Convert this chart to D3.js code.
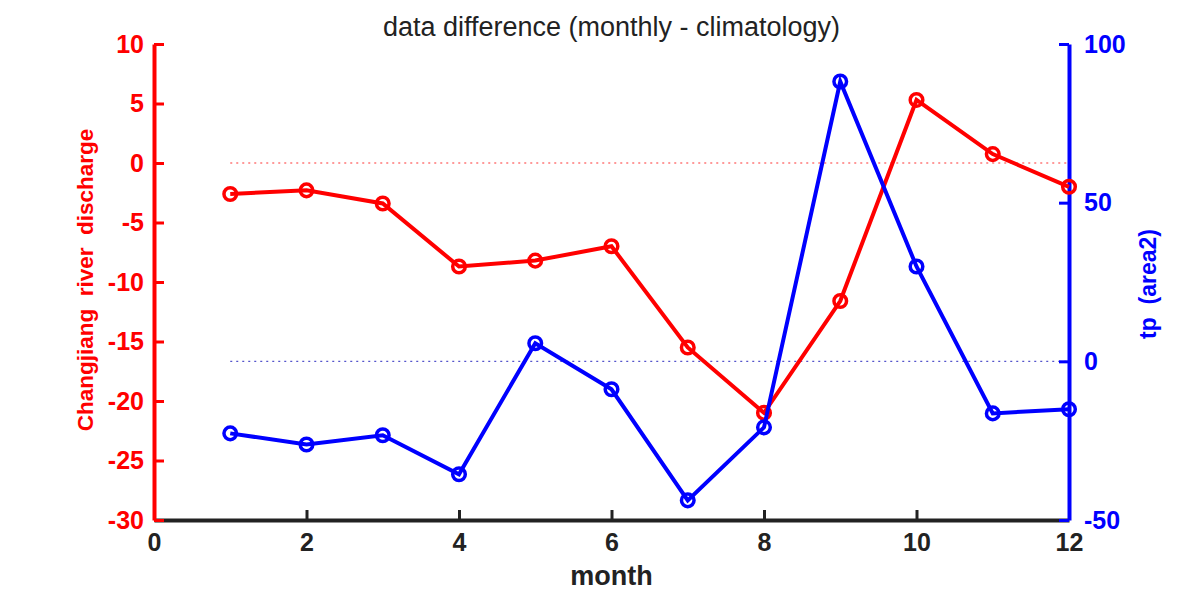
<!DOCTYPE html>
<html>
<head>
<meta charset="utf-8">
<script src="https://cdn.jsdelivr.net/npm/d3@7"></script>
<style>
body { margin: 0; background: #fff; }
text { font-family: "Liberation Sans", Arial, sans-serif; }
</style>
</head>
<body>
<div id="chart"></div>
<script>
// data
var months = [1, 2, 3, 4, 5, 6, 7, 8, 9, 10, 11, 12];
var discharge = [-2.6, -2.3, -3.4, -8.7, -8.2, -7.0, -15.5, -21.0, -11.6, 5.3, 0.75, -2.0];
var tp = [-22.7, -26.2, -23.3, -35.6, 5.7, -8.8, -43.8, -20.8, 88.2, 29.9, -16.4, -15.1];
var xTicks = [0, 2, 4, 6, 8, 10, 12];
var leftTicks = [10, 5, 0, -5, -10, -15, -20, -25, -30];
var rightTicks = [100, 50, 0, -50];

var svgWidth = 1182, svgHeight = 591;
var margin = {top: 44, right: 113, bottom: 71, left: 154};
var width = svgWidth - margin.left - margin.right;
var height = svgHeight - margin.top - margin.bottom;

var svg = d3.select("#chart").append("svg")
    .attr("width", svgWidth).attr("height", svgHeight);
var chart = svg.append("g").attr("transform", `translate(${margin.left},${margin.top})`);

var xScale = d3.scaleLinear().domain([0, 12]).range([0, width]);
var yLeft = d3.scaleLinear().domain([-30, 10]).range([height, 0]);
var yRight = d3.scaleLinear().domain([-50, 100]).range([height, 0]);

var plainFmt = function (d) { return String(d); };

// zero reference lines
chart.append("line")
    .attr("x1", xScale(1)).attr("x2", xScale(12))
    .attr("y1", yLeft(0)).attr("y2", yLeft(0))
    .attr("stroke", "#f33").attr("stroke-width", 1.2).attr("stroke-dasharray", "2,4");
chart.append("line")
    .attr("x1", xScale(1)).attr("x2", xScale(12))
    .attr("y1", yRight(0)).attr("y2", yRight(0))
    .attr("stroke", "#55c").attr("stroke-width", 1.2).attr("stroke-dasharray", "2,4");

// x axis
var xAxis = d3.axisBottom(xScale).tickValues(xTicks).tickFormat(plainFmt)
    .tickSizeInner(-10).tickSizeOuter(0).tickPadding(13);
var gx = chart.append("g").attr("transform", `translate(0,${height})`).call(xAxis);
gx.select(".domain").attr("stroke", "#222").attr("stroke-width", 4);
gx.selectAll(".tick line").attr("stroke", "#222").attr("stroke-width", 3);
gx.selectAll(".tick text").attr("fill", "#222").attr("font-size", 25).attr("font-weight", "bold");

// left axis
var yAxisL = d3.axisLeft(yLeft).tickValues(leftTicks).tickFormat(plainFmt)
    .tickSizeInner(-10).tickSizeOuter(0).tickPadding(10);
var gl = chart.append("g").call(yAxisL);
gl.select(".domain").attr("stroke", "#f00").attr("stroke-width", 4);
gl.selectAll(".tick line").attr("stroke", "#f00").attr("stroke-width", 3);
gl.selectAll(".tick text").attr("fill", "#f00").attr("font-size", 25).attr("font-weight", "bold");

// right axis
var yAxisR = d3.axisRight(yRight).tickValues(rightTicks).tickFormat(plainFmt)
    .tickSizeInner(-10).tickSizeOuter(0).tickPadding(15);
var gr = chart.append("g").attr("transform", `translate(${width},0)`).call(yAxisR);
gr.select(".domain").attr("stroke", "#00f").attr("stroke-width", 4);
gr.selectAll(".tick line").attr("stroke", "#00f").attr("stroke-width", 3);
gr.selectAll(".tick text").attr("fill", "#00f").attr("font-size", 25).attr("font-weight", "bold");

// series
function drawSeries(values, scale, color) {
    var line = d3.line()
        .x(function (d, i) { return xScale(months[i]); })
        .y(function (d) { return scale(d); });
    chart.append("path").datum(values)
        .attr("d", line)
        .attr("fill", "none").attr("stroke", color).attr("stroke-width", 4);
    chart.selectAll(null).data(values).enter().append("circle")
        .attr("cx", function (d, i) { return xScale(months[i]); })
        .attr("cy", function (d) { return scale(d); })
        .attr("r", 6.3)
        .attr("fill", "none").attr("stroke", color).attr("stroke-width", 3.5);
}
drawSeries(discharge, yLeft, "#f00");
drawSeries(tp, yRight, "#00f");

// titles
svg.append("text")
    .attr("x", margin.left + width / 2).attr("y", 36)
    .attr("text-anchor", "middle").attr("font-size", 27).attr("fill", "#222")
    .text("data difference (monthly - climatology)");

svg.append("text")
    .attr("x", margin.left + width / 2).attr("y", 585)
    .attr("text-anchor", "middle").attr("font-size", 27).attr("font-weight", "bold").attr("fill", "#222")
    .text("month");

svg.append("text")
    .attr("transform", `translate(93,${margin.top + height / 2 - 2})rotate(-90)`)
    .attr("text-anchor", "middle").attr("font-size", 22.5).attr("font-weight", "bold").attr("fill", "#f00")
    .style("white-space", "pre")
    .text("Changjiang  river  discharge");

svg.append("text")
    .attr("transform", `translate(1156,${margin.top + height / 2 + 2})rotate(-90)`)
    .attr("text-anchor", "middle").attr("font-size", 23).attr("font-weight", "bold").attr("fill", "#00f")
    .style("white-space", "pre")
    .text("tp  (area2)");
</script>
</body>
</html>
